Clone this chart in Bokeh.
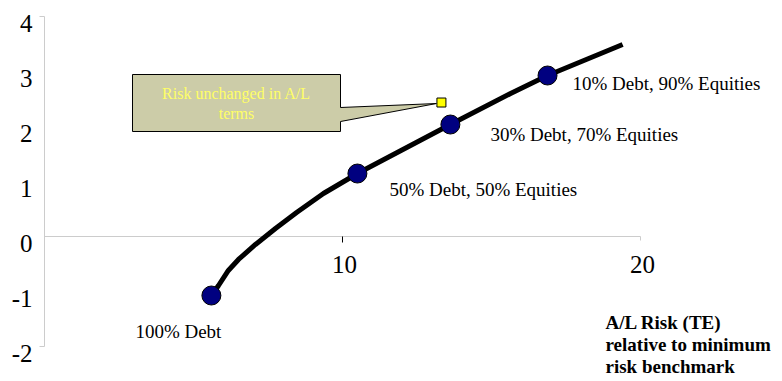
from bokeh.plotting import figure
from bokeh.models import Range1d
from bokeh.embed import file_html
from bokeh.resources import INLINE

# ---- data ----
curve_x = [5.60, 5.84, 6.17, 6.51, 7.08, 7.75, 8.46, 9.36, 10.50, 13.62, 15.64, 16.88, 19.40]
curve_y = [-1.073, -0.891, -0.618, -0.418, -0.145, 0.145, 0.436, 0.782, 1.145, 2.036, 2.60, 2.927, 3.49]

point_x = [5.60, 10.50, 13.62, 16.88]
point_y = [-1.073, 1.145, 2.036, 2.927]
point_labels = ["100% Debt", "50% Debt, 50% Equities", "30% Debt, 70% Equities", "10% Debt, 90% Equities"]

x_ticks = [10, 20]
x_tick_labels = ["10", "20"]
y_ticks = [4, 3, 2, 1, 0, -1, -2]
y_tick_labels = ["4", "3", "2", "1", "0", "-1", "-2"]

callout_target = (13.32, 2.436)
callout_text = ["Risk unchanged in A/L", "terms"]
axis_title = ["A/L Risk (TE)", "relative to minimum", "risk benchmark"]

# ---- layout constants ----
W, H = 782, 381
PX_X = 29.8      # pixels per x unit
PX_Y = 55.0      # pixels per y unit
X0_PX = 44       # pixel column of x = 0
Y0_PX = 236      # pixel row of y = 0

def dx(px):
    return px / PX_X

def dy(px):
    return px / PX_Y

def ypx(row):
    return (Y0_PX - row) / PX_Y

p = figure(width=W, height=H, output_backend="svg", toolbar_location=None,
           x_axis_type=None, y_axis_type=None, min_border=0,
           x_range=Range1d(-X0_PX / PX_X, (W - X0_PX) / PX_X),
           y_range=Range1d(-(H - Y0_PX) / PX_Y, Y0_PX / PX_Y))
p.grid.visible = False
p.outline_line_color = None
p.background_fill_color = "white"
p.border_fill_color = "white"

SERIF = "Liberation Serif"
AXIS_GREY = "#cccccc"

# axes lines
p.segment(x0=[0], y0=[0], x1=[20], y1=[0], line_color=AXIS_GREY, line_width=1)
p.segment(x0=[0], y0=[-2], x1=[0], y1=[4], line_color=AXIS_GREY, line_width=1)
# ticks
p.segment(x0=[10], y0=[0], x1=[10], y1=[-dy(6)], line_color="black", line_width=1)
p.segment(x0=[20], y0=[0], x1=[20], y1=[-dy(4)], line_color=AXIS_GREY, line_width=1)
p.segment(x0=[0, 0], y0=[4, -2], x1=[-dx(5), -dx(5)], y1=[4, -2], line_color=AXIS_GREY, line_width=1)

# tick labels
p.text(x=x_ticks, y=[0] * len(x_ticks), text=x_tick_labels, x_offset=2, y_offset=28,
       text_align="center", text_baseline="middle", text_font={"value": SERIF},
       text_font_size="25px", text_color="black")
p.text(x=[0] * len(y_ticks), y=y_ticks, text=y_tick_labels, x_offset=-12, y_offset=7,
       text_align="right", text_baseline="middle", text_font={"value": SERIF},
       text_font_size="25px", text_color="black")

# callout box with pointer
bx0, bx1 = dx(132 - X0_PX), dx(340 - X0_PX)
by0, by1 = ypx(131), ypx(74)
pa, pb = ypx(107), ypx(121)
tip_x = callout_target[0] - dx(5)
tip_y = callout_target[1] - dy(1)
p.patch(x=[bx0, bx1, bx1, tip_x, bx1, bx1, bx0],
        y=[by1, by1, pa, tip_y, pb, by0, by0],
        fill_color="#cccca8", line_color="black", line_width=1)
cx = (bx0 + bx1) / 2
p.text(x=[cx, cx], y=[ypx(93), ypx(113)], text=callout_text,
       text_align="center", text_baseline="alphabetic", text_font={"value": SERIF},
       text_font_size="16px", text_color="#ffff66")
p.scatter(x=[callout_target[0]], y=[callout_target[1]], marker="square", size=9,
          fill_color="#ffff00", line_color="black", line_width=1)

# curve
p.line(curve_x, curve_y, line_color="black", line_width=5, line_join="round")
p.scatter(point_x, point_y, marker="circle", size=19, fill_color="#000080",
          line_color="black", line_width=1)

# point labels
lab_dx = [-76, 32, 40, 25]
lab_dy = [36, 16, 10, 8]
for x, y, t, ox, oy in zip(point_x, point_y, point_labels, lab_dx, lab_dy):
    p.text(x=[x], y=[y], text=[t], x_offset=ox, y_offset=oy, text_align="left",
           text_baseline="alphabetic", text_font={"value": SERIF},
           text_font_size="19px", text_color="black")

# axis title (bottom right, bold)
tx = dx(605 - X0_PX)
p.text(x=[tx] * 3, y=[ypx(b) for b in (322, 344, 366)], text=axis_title,
       text_align="left", text_baseline="alphabetic", text_font={"value": SERIF},
       text_font_style="bold", text_font_size="19px", text_color="black")

open("out.html", "w").write(file_html(p, INLINE))
